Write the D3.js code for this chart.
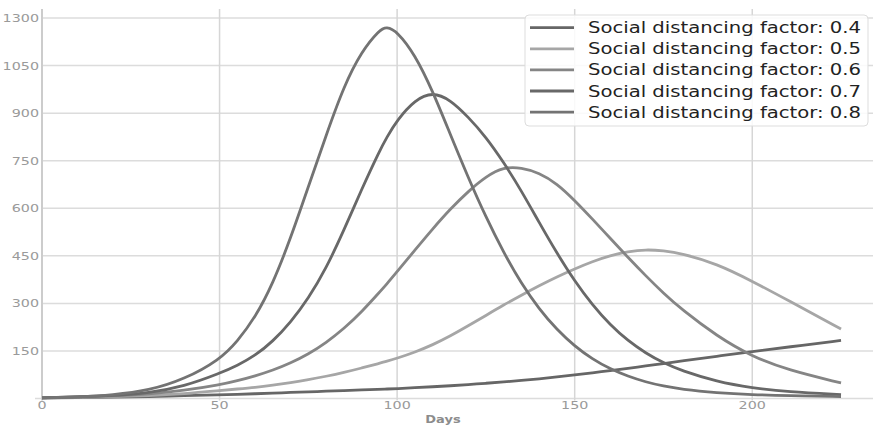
<!DOCTYPE html>
<html>
<head>
<meta charset="utf-8">
<script src="https://cdn.jsdelivr.net/npm/d3@7"></script>
<style>
  body { margin: 0; background: #fff; }
  svg { display: block; font-family: "DejaVu Sans", sans-serif; }
</style>
</head>
<body>
<svg id="chart" width="873" height="427"></svg>
<script>
const svg = d3.select("#chart");

// days
const days = [0, 10, 20, 30, 40, 50, 55, 60, 65, 70, 75, 80, 85, 90, 95, 97, 100, 105, 110, 115, 120,
              125, 130, 135, 140, 145, 150, 155, 160, 165, 170, 175, 180, 190, 200, 210, 225];

const factor04 = [2, 3, 4, 6, 9, 12, 13, 15, 17, 19, 21, 23, 25, 27, 29, 30, 31, 34, 37, 40, 44,
                  48, 52, 57, 62, 68, 74, 81, 88, 95, 103, 110, 118, 133, 148, 162, 183];
const factor05 = [2, 3, 6, 9, 15, 25, 30, 35, 42, 50, 59, 70, 82, 96, 111, 117, 127, 146, 169, 197, 229,
                  262, 295, 326, 356, 384, 409, 432, 451, 463, 470, 466, 458, 425, 370, 310, 219];
const factor06 = [2, 4, 8, 14, 25, 43, 56, 71, 89, 112, 140, 176, 220, 273, 335, 360, 400, 468, 535, 598, 653,
                  700, 730, 728, 712, 678, 625, 566, 505, 445, 387, 332, 282, 197, 132, 90, 49];
const factor07 = [2, 5, 9, 17, 38, 79, 104, 135, 180, 240, 315, 410, 530, 660, 780, 822, 878, 942, 967, 942, 888,
                  825, 745, 655, 555, 458, 370, 295, 232, 182, 143, 112, 88, 53, 33, 21, 12];
const factor08 = [2, 5, 11, 25, 60, 122, 180, 255, 362, 505, 668, 830, 985, 1095, 1162, 1173, 1158, 1085, 970, 832, 697,
                  572, 460, 362, 282, 217, 165, 124, 93, 70, 52, 39, 29, 18, 12, 9, 6];

const seriesNames = ["Social distancing factor: 0.4", "Social distancing factor: 0.5",
                     "Social distancing factor: 0.6", "Social distancing factor: 0.7",
                     "Social distancing factor: 0.8"];
const seriesValues = [factor04, factor05, factor06, factor07, factor08];
const COLORS = ["#666666", "#a6a6a6", "#858585", "#686868", "#737373"];

const xTicks = [0, 50, 100, 150, 200];
const yTicks = [150, 300, 450, 600, 750, 900, 1050, 1200];
const yTickLabels = ["150", "300", "450", "600", "750", "900", "1050", "1300"];

const xscale = d3.scaleLinear().domain([0, 234]).range([42, 873]);
const yscale = d3.scaleLinear().domain([0, 1200]).range([398.5, 18]);
const plotTop = yscale(1228);

// grid
const grid = svg.append("g");
grid.selectAll(".hgrid").data([0].concat(yTicks)).join("line")
    .attr("class", "hgrid")
    .attr("x1", d => d === 0 ? 35 : xscale(0))
    .attr("x2", 873)
    .attr("y1", d => yscale(d))
    .attr("y2", d => yscale(d))
    .style("stroke", "#dcdcdc")
    .style("stroke-width", 1.5);
grid.selectAll(".vgrid").data(xTicks.slice(1)).join("line")
    .attr("class", "vgrid")
    .attr("x1", d => xscale(d))
    .attr("x2", d => xscale(d))
    .attr("y1", plotTop)
    .attr("y2", yscale(0) + 2)
    .style("stroke", "#d6d6d6")
    .style("stroke-width", 1.5);
grid.append("line")
    .attr("x1", xscale(0)).attr("x2", xscale(0))
    .attr("y1", plotTop).attr("y2", yscale(0) + 2)
    .style("stroke", "#cccccc")
    .style("stroke-width", 2);

// tick labels (the picture is stretched sideways, so are the glyphs)
svg.selectAll(".ylabel").data(yTicks).join("text")
    .attr("class", "ylabel")
    .attr("transform", d => `translate(39,${yscale(d) + 4}) scale(1.3,1)`)
    .attr("text-anchor", "end")
    .style("font-size", "11px")
    .style("fill", "#9a9a9a")
    .text((d, i) => yTickLabels[i]);

svg.selectAll(".xlabel").data(xTicks).join("text")
    .attr("class", "xlabel")
    .attr("transform", d => `translate(${xscale(d)},${yscale(0) + 10}) scale(1.3,1)`)
    .attr("text-anchor", "middle")
    .style("font-size", "11px")
    .style("fill", "#9a9a9a")
    .text(d => d);

svg.append("text")
    .attr("transform", `translate(443,423) scale(1.3,1)`)
    .attr("text-anchor", "middle")
    .style("font-size", "10px")
    .style("font-weight", "bold")
    .style("fill", "#8c8c8c")
    .text("Days");

// curves
const line = d3.line()
    .x(d => xscale(d[0]))
    .y(d => yscale(d[1]))
    .curve(d3.curveBasis);

svg.selectAll(".curve").data(seriesValues).join("path")
    .attr("class", "curve")
    .attr("d", vals => line(days.map((day, i) => [day, vals[i]])))
    .style("fill", "none")
    .style("stroke", (_, i) => COLORS[i])
    .style("stroke-width", 2.8);

// legend
const legend = svg.append("g");
legend.append("rect")
    .attr("x", 525).attr("y", 15)
    .attr("width", 343).attr("height", 111)
    .attr("rx", 4)
    .style("fill", "#ffffff")
    .style("fill-opacity", 0.85)
    .style("stroke", "#dddddd");
const rows = legend.selectAll(".lrow").data(seriesNames).join("g")
    .attr("class", "lrow")
    .attr("transform", (_, i) => `translate(0,${27.7 + i * 21.1})`);
rows.append("line")
    .attr("x1", 530).attr("x2", 574)
    .style("stroke", (_, i) => COLORS[i])
    .style("stroke-width", 2.8);
rows.append("text")
    .attr("x", 588)
    .attr("y", 5.5)
    .attr("textLength", 273)
    .attr("lengthAdjust", "spacingAndGlyphs")
    .style("font-size", "16px")
    .style("fill", "#222")
    .text(d => d);
</script>
</body>
</html>
